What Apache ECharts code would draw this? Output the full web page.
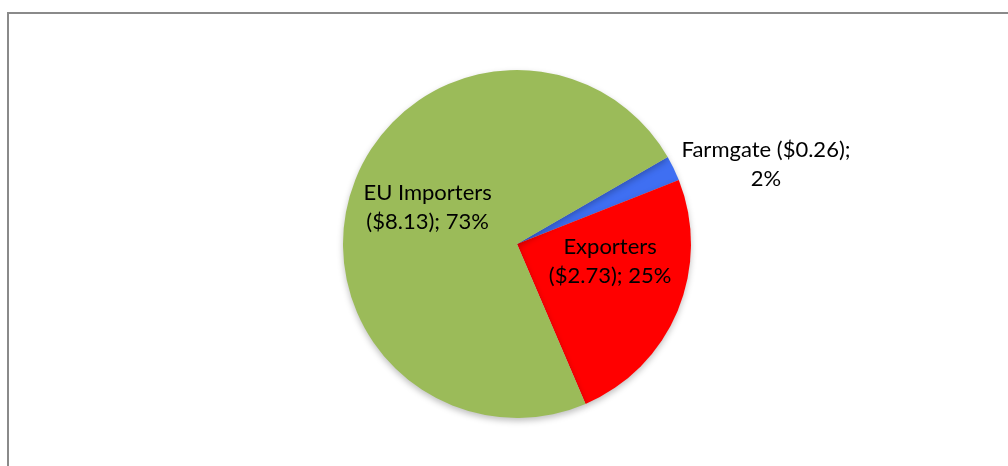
<!DOCTYPE html>
<html>
<head>
<meta charset="utf-8">
<script src="https://cdn.jsdelivr.net/npm/echarts@6/dist/echarts.min.js"></script>
<style>
  html, body { margin: 0; padding: 0; background: #fff; }
  #chart { width: 1008px; height: 466px; }
</style>
</head>
<body>
<div id="chart"></div>
<script>
const categories = ['Farmgate', 'Exporters', 'EU Importers'];
const values = [0.26, 2.73, 8.13];
const colors = ['#3F6FF2', '#FF0000', '#9BBB59'];
const labelBreakAfterName = [false, true, true];
const labelOffsets = [[168, -40], [10, -17], [-4, -8]];

const chart = echarts.init(document.getElementById('chart'));
const data = categories.map((name, i) => ({
  name: name,
  value: values[i],
  itemStyle: { color: colors[i] },
  label: { offset: labelOffsets[i] }
}));

chart.setOption({
  animation: false,
  backgroundColor: '#ffffff',
  graphic: [{
    type: 'rect',
    shape: { x: 8, y: 13, width: 1100, height: 600 },
    style: { fill: 'none', stroke: '#8a8a8a', lineWidth: 2 },
    silent: true
  }],
  series: [{
    type: 'pie',
    center: [517, 244],
    radius: 174,
    startAngle: 30,
    clockwise: true,
    percentPrecision: 0,
    avoidLabelOverlap: false,
    data: data,
    itemStyle: {
      borderWidth: 0,
      shadowBlur: 6,
      shadowOffsetY: 3,
      shadowColor: 'rgba(0,0,0,0.25)'
    },
    label: {
      show: true,
      position: 'inside',
      color: '#000',
      fontFamily: 'Lato',
      fontSize: 22,
      lineHeight: 29,
      align: 'center',
      formatter: function (p) {
        const i = p.dataIndex;
        const sep = labelBreakAfterName[i] ? '\n' : ' ';
        const tail = labelBreakAfterName[i] ? ' ' : '\n';
        return p.name + sep + '($' + p.value.toFixed(2) + ');' + tail + p.percent + '%';
      }
    },
    labelLine: { show: false },
    emphasis: { disabled: true }
  }]
});
</script>
</body>
</html>
